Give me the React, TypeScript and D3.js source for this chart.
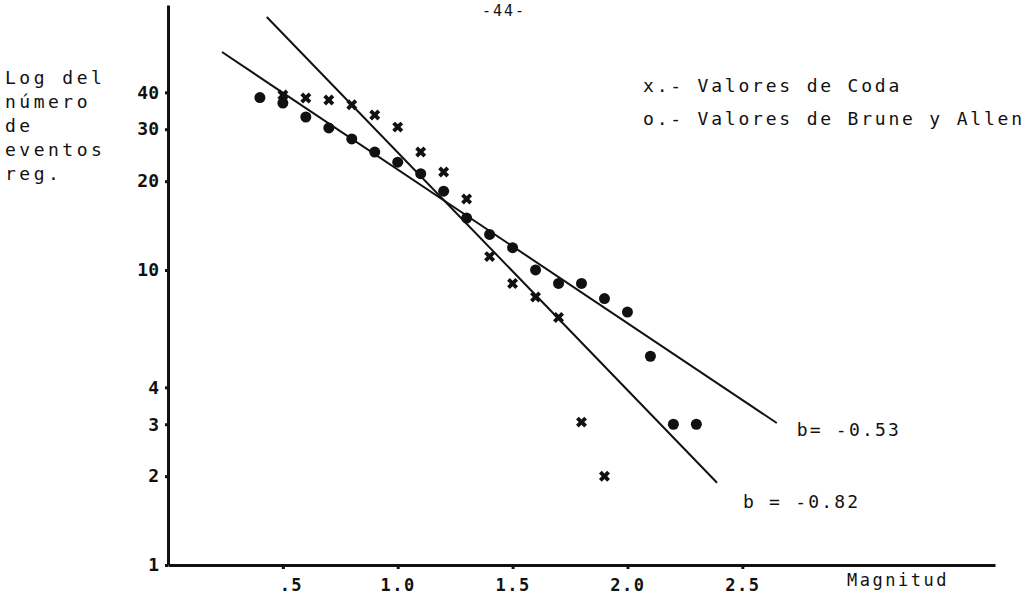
import React, { useRef, useEffect } from "react";
import * as d3 from "d3";

// magnitudes and counts
const magBrune = [0.4, 0.5, 0.6, 0.7, 0.8, 0.9, 1.0, 1.1, 1.2, 1.3, 1.4, 1.5, 1.6, 1.7, 1.8, 1.9, 2.0, 2.1, 2.2, 2.3];
const countBrune = [38.4, 36.8, 33.0, 30.3, 27.8, 25.1, 23.2, 21.2, 18.5, 15.0, 13.2, 11.9, 10.0, 9.0, 9.0, 8.0, 7.2, 5.1, 3.0, 3.0];

const magCoda = [0.5, 0.6, 0.7, 0.8, 0.9, 1.0, 1.1, 1.2, 1.3, 1.4, 1.5, 1.6, 1.7, 1.8, 1.9];
const countCoda = [39.2, 38.3, 37.7, 36.3, 33.5, 30.5, 25.1, 21.5, 17.4, 11.1, 9.0, 8.1, 6.9, 3.05, 2.0];

// fitted lines: [magnitud, count] at both ends
const fitBrune = [[0.235, 54.8], [2.65, 3.03]];
const fitCoda = [[0.43, 72], [2.39, 1.9]];

const xTicks = [0.5, 1.0, 1.5, 2.0, 2.5];
const xTickLabels = [".5", "1.0", "1.5", "2.0", "2.5"];
const yTicks = [1, 2, 3, 4, 10, 20, 30, 40];

const yTitle = ["Log del", "número", "de", "eventos", "reg."];
const legendRows = ["x.- Valores de Coda", "o.- Valores de Brune y Allen"];
const bLabels = ["b= -0.53", "b = -0.82"];

const W = 1032;
const H = 602;
const FONT = "'DejaVu Sans Mono', 'Liberation Mono', monospace";
const INK = "#111";

const App = () => {
  const svgRef = useRef<SVGSVGElement | null>(null);

  useEffect(() => {
    const svg = d3.select(svgRef.current);
    svg.selectAll("*").remove();

    // scales
    const x = d3.scaleLinear().domain([0, 3.6]).range([168, 995]);
    const y = d3.scaleLog().domain([1, 79.1]).range([565, 5]);

    // page number at the top
    svg.append("text")
      .attr("x", 482).attr("y", 16)
      .attr("font-family", FONT).attr("font-size", 15)
      .attr("letter-spacing", 2).attr("fill", INK)
      .text("-44-");

    // axes
    const xAxis = d3.axisBottom(x).tickValues(xTicks).tickSize(4).tickSizeOuter(0)
      .tickFormat((d, i) => xTickLabels[i]);
    const gx = svg.append("g").attr("transform", "translate(0,565)").call(xAxis);
    gx.select(".domain").attr("stroke", INK).attr("stroke-width", 3);
    gx.selectAll(".tick line").attr("stroke", INK).attr("stroke-width", 3);
    gx.selectAll(".tick text")
      .attr("fill", INK).attr("font-family", FONT).attr("font-size", 17)
      .attr("letter-spacing", 1.5).attr("font-weight", "bold").attr("dy", "1.1em")
      .attr("dx", (d, i) => (i === 0 ? 8 : 0));

    const yAxis = d3.axisLeft(y).tickValues(yTicks).tickSize(3).tickSizeOuter(0)
      .tickPadding(6).tickFormat((d) => String(d));
    const gy = svg.append("g").attr("transform", "translate(168,0)").call(yAxis);
    gy.select(".domain").attr("stroke", INK).attr("stroke-width", 3);
    gy.selectAll(".tick line").attr("stroke", INK).attr("stroke-width", 3);
    gy.selectAll(".tick text")
      .attr("fill", INK).attr("font-family", FONT).attr("font-size", 18)
      .attr("font-weight", "bold");

    // y title
    svg.append("g").selectAll("text").data(yTitle).join("text")
      .attr("x", 5).attr("y", (d, i) => 84 + i * 24)
      .attr("font-family", FONT).attr("font-size", 18)
      .attr("letter-spacing", 3.5).attr("fill", INK)
      .text((d) => d);

    // x title
    svg.append("text")
      .attr("x", 847).attr("y", 586)
      .attr("font-family", FONT).attr("font-size", 17)
      .attr("letter-spacing", 2.5).attr("fill", INK)
      .text("Magnitud");

    // legend
    svg.append("g").selectAll("text").data(legendRows).join("text")
      .attr("x", 643).attr("y", (d, i) => 92 + i * 33)
      .attr("font-family", FONT).attr("font-size", 18)
      .attr("letter-spacing", 2.8).attr("fill", INK)
      .text((d) => d);

    // fitted lines
    const fitLine = d3.line<number[]>().x((d) => x(d[0])).y((d) => y(d[1]));
    [fitBrune, fitCoda].forEach((f) => {
      svg.append("path").attr("d", fitLine(f)).attr("fill", "none")
        .attr("stroke", INK).attr("stroke-width", 2);
    });

    // b labels next to line ends
    const ends = [fitBrune[1], fitCoda[1]];
    const offs = [[20, 13], [26, 25]];
    svg.append("g").selectAll("text").data(bLabels).join("text")
      .attr("x", (d, i) => x(ends[i][0]) + offs[i][0])
      .attr("y", (d, i) => y(ends[i][1]) + offs[i][1])
      .attr("font-family", FONT).attr("font-size", 18)
      .attr("letter-spacing", 2.2).attr("fill", INK)
      .text((d) => d);

    // Brune y Allen points
    svg.append("g").selectAll("circle").data(magBrune).join("circle")
      .attr("cx", (d) => x(d))
      .attr("cy", (d, i) => y(countBrune[i]))
      .attr("r", 5.5).attr("fill", INK);

    // Coda points
    const cross = d3.symbol().type(d3.symbolCross).size(75);
    svg.append("g").selectAll("path").data(magCoda).join("path")
      .attr("d", cross())
      .attr("transform", (d, i) => `translate(${x(d)},${y(countCoda[i])}) rotate(45)`)
      .attr("fill", INK);
  }, []);

  return (
    <div style={{ position: "absolute", left: 0, top: 0, background: "#fff" }}>
      <svg ref={svgRef} width={W} height={H} style={{ display: "block" }} />
    </div>
  );
};

export default App;
